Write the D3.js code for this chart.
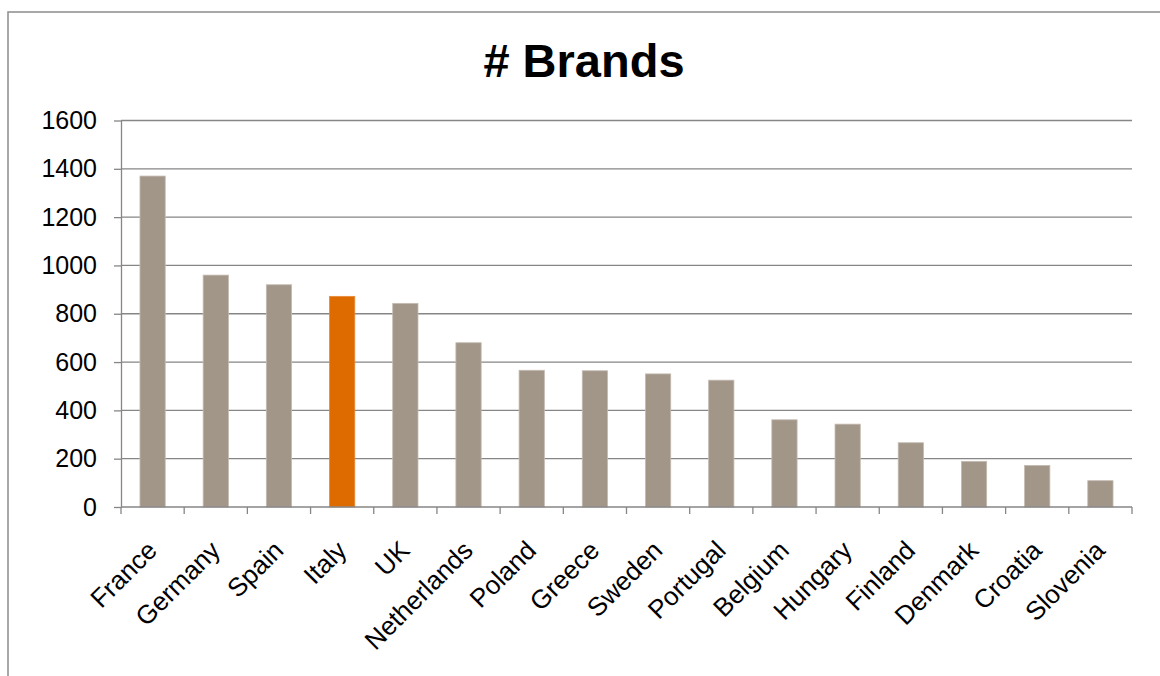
<!DOCTYPE html>
<html>
<head>
<meta charset="utf-8">
<script src="https://cdn.jsdelivr.net/npm/d3@7"></script>
<style>
  body { margin: 0; background: #fff; }
  text { font-family: Arial, "Liberation Sans", sans-serif; }
</style>
</head>
<body>
<svg width="1160" height="676"></svg>
<script>
// dados
var paises = ['France', 'Germany', 'Spain', 'Italy', 'UK', 'Netherlands', 'Poland', 'Greece',
  'Sweden', 'Portugal', 'Belgium', 'Hungary', 'Finland', 'Denmark', 'Croatia', 'Slovenia'];
var marcas = [1370, 960, 920, 872, 843, 680, 566, 564, 551, 525, 361, 343, 266, 189, 172, 109];
var ticksY = [0, 200, 400, 600, 800, 1000, 1200, 1400, 1600];
var destaque = 'Italy';

var svg = d3.select('svg');

var esq = 121, dir = 1132, topo = 120.5, base = 507;

// moldura do grafico
svg.append('rect').attr('x', 8).attr('y', 12).attr('width', 1170).attr('height', 690)
  .attr('fill', 'none').attr('stroke', '#8c8c8c').attr('stroke-width', 1.5);

// titulo
svg.append('text').attr('x', 584).attr('y', 77).attr('text-anchor', 'middle')
  .attr('font-size', 47).attr('font-weight', 'bold').attr('fill', '#000').text('# Brands');

var x = d3.scaleBand().domain(paises).range([esq, dir]).paddingInner(0.6).paddingOuter(0.3);
var y = d3.scaleLinear().domain([0, 1600]).range([base, topo]);

// linhas de grade
svg.append('g').selectAll('line').data(ticksY.filter(d => d > 0)).join('line')
  .attr('x1', esq).attr('x2', dir)
  .attr('y1', d => y(d)).attr('y2', d => y(d))
  .attr('stroke', '#868686').attr('stroke-width', 1.3);

// barras
svg.append('g').selectAll('rect').data(paises).join('rect')
  .attr('x', d => x(d))
  .attr('width', x.bandwidth())
  .attr('y', (d, i) => y(marcas[i]))
  .attr('height', (d, i) => base - y(marcas[i]))
  .attr('fill', d => d == destaque ? '#dd6b00' : '#a29689')
  .attr('stroke', d => d == destaque ? '#e88a3a' : '#c4bbb2').attr('stroke-width', 0.8);

// eixo Y
var eixoY = svg.append('g').attr('transform', 'translate(' + esq + ',0)')
  .call(d3.axisLeft(y).tickValues(ticksY).tickFormat(d3.format('d'))
    .tickSize(7).tickPadding(17).tickSizeOuter(0));
eixoY.attr('font-family', null);
eixoY.select('.domain').attr('stroke', '#868686').attr('stroke-width', 1.3);
eixoY.selectAll('.tick line').attr('stroke', '#868686').attr('stroke-width', 1.3);
eixoY.selectAll('.tick text').attr('font-size', 25).attr('fill', '#000');

// eixo X: ticks nas divisas entre categorias
var divisas = d3.range(paises.length + 1).map(i => esq + i * (dir - esq) / paises.length);
svg.append('line').attr('x1', esq).attr('x2', dir).attr('y1', base).attr('y2', base)
  .attr('stroke', '#868686').attr('stroke-width', 1.3);
svg.append('g').selectAll('line').data(divisas).join('line')
  .attr('x1', d => d).attr('x2', d => d).attr('y1', base).attr('y2', base + 7)
  .attr('stroke', '#868686').attr('stroke-width', 1.3);

// rotulos das categorias
svg.append('g').selectAll('text').data(paises).join('text')
  .attr('transform', d => 'translate(' + (x(d) + x.bandwidth() / 2 + 6) + ',552) rotate(-45)')
  .attr('text-anchor', 'end').attr('font-size', 26).attr('fill', '#000')
  .text(d => d);
</script>
</body>
</html>
